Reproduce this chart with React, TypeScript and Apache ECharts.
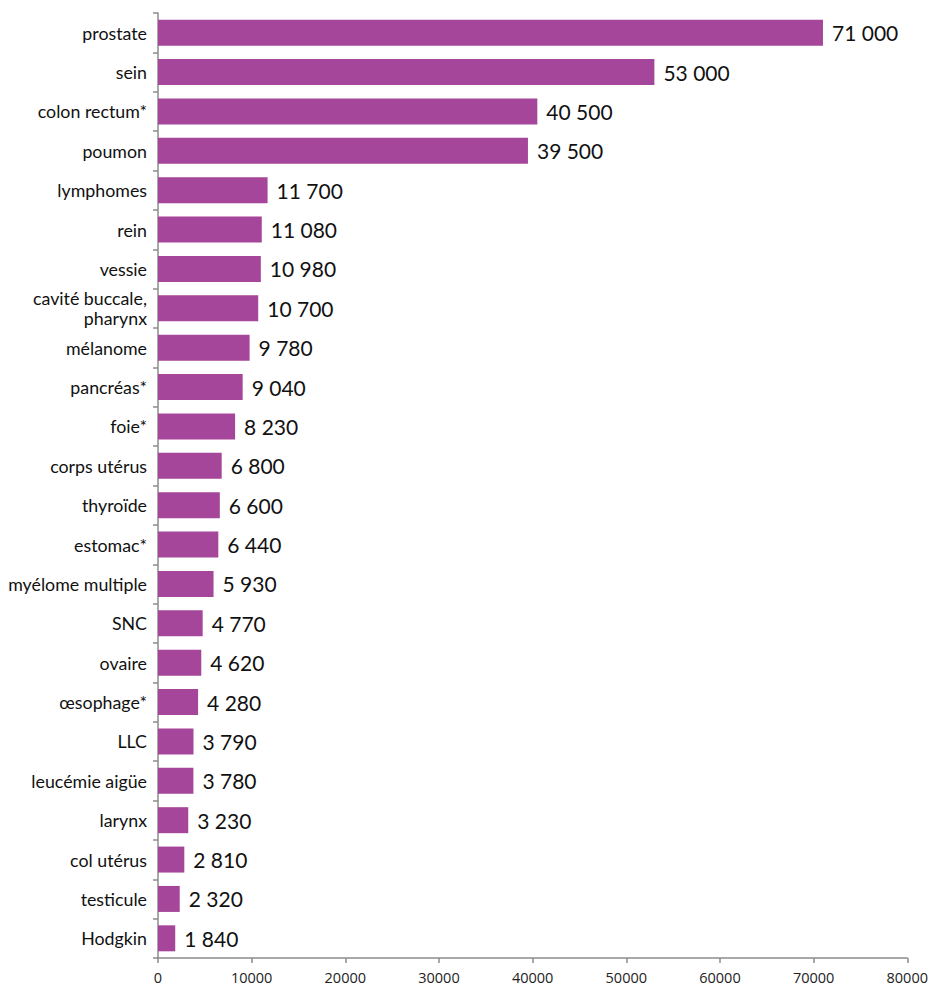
import React, { useEffect, useRef } from "react";
import * as echarts from "echarts";

const categories = [
  "prostate", "sein", "colon rectum*", "poumon", "lymphomes", "rein", "vessie",
  "cavité buccale,\npharynx", "mélanome", "pancréas*", "foie*", "corps utérus",
  "thyroïde", "estomac*", "myélome multiple", "SNC", "ovaire", "œsophage*", "LLC",
  "leucémie aigüe", "larynx", "col utérus", "testicule", "Hodgkin",
];
const values = [
  71000, 53000, 40500, 39500, 11700, 11080, 10980, 10700, 9780, 9040, 8230, 6800,
  6600, 6440, 5930, 4770, 4620, 4280, 3790, 3780, 3230, 2810, 2320, 1840,
];
const xTicks = [0, 10000, 20000, 30000, 40000, 50000, 60000, 70000, 80000];

const fmt = (v: number) => String(v).replace(/\B(?=(\d{3})+(?!\d))/g, " ");

export default function App() {
  const ref = useRef<HTMLDivElement>(null);
  useEffect(() => {
    const chart = echarts.init(ref.current!, null, { renderer: "svg" });
    chart.setOption({
      animation: false,
      grid: { left: 158, right: 23, top: 13, bottom: 32, containLabel: false },
      xAxis: {
        type: "value",
        min: xTicks[0],
        max: xTicks[xTicks.length - 1],
        interval: 10000,
        axisLine: { show: true, lineStyle: { color: "#8c8c8c", width: 1.5 } },
        axisTick: { show: true, length: 5, lineStyle: { color: "#8c8c8c", width: 1.5 } },
        splitLine: { show: false },
        axisLabel: {
          color: "#222",
          fontSize: 14.5,
          fontFamily: "Open Sans",
          margin: 12,
          formatter: (v: number) => String(v),
        },
      },
      yAxis: {
        type: "category",
        data: categories,
        inverse: true,
        axisLine: { show: true, lineStyle: { color: "#8c8c8c", width: 1.5 } },
        axisTick: { show: true, length: 5, lineStyle: { color: "#8c8c8c", width: 1.5 } },
        axisLabel: {
          color: "#111",
          fontSize: 17.8,
          fontFamily: "Lato",
          margin: 11,
          lineHeight: 20,
          align: "right",
        },
      },
      series: [
        {
          type: "bar",
          data: values,
          barCategoryGap: "34%",
          itemStyle: { color: "#A5469A" },
          label: {
            show: true,
            position: "right",
            distance: 9,
            color: "#111",
            fontSize: 21,
            fontFamily: "Lato",
            formatter: (p: any) => fmt(p.value),
          },
        },
      ],
    });
    return () => chart.dispose();
  }, []);
  return <div ref={ref} style={{ width: 931, height: 990, position: "absolute", left: 0, top: 0 }} />;
}
